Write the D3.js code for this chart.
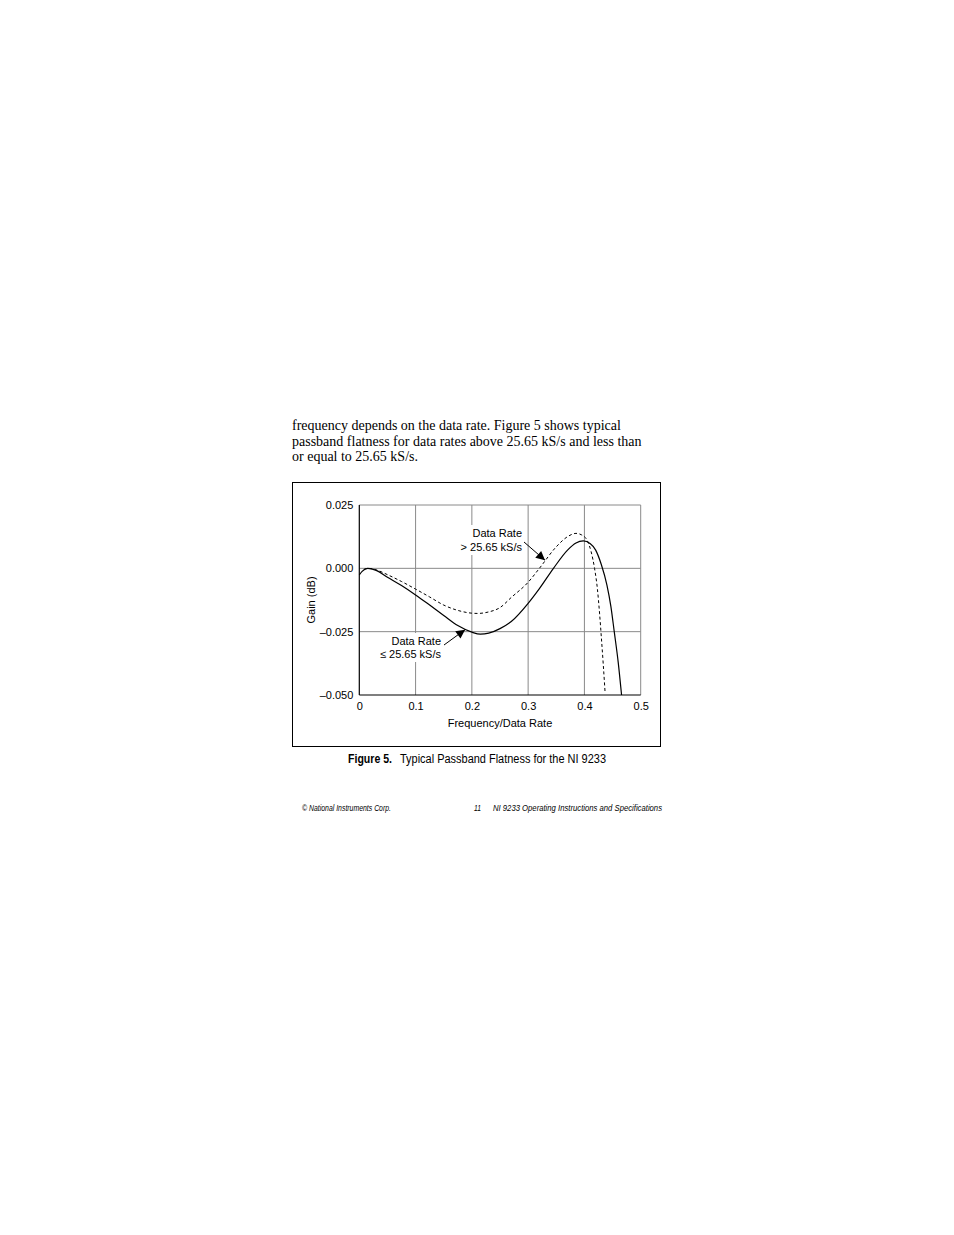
<!DOCTYPE html>
<html>
<head>
<meta charset="utf-8">
<script src="https://cdn.jsdelivr.net/npm/d3@7"></script>
<style>
  body { margin: 0; background: #fff; }
</style>
</head>
<body>
<script>
// frequency / data rate for the two curves
var slowRateX = [0, 0.005, 0.015, 0.03, 0.05, 0.075, 0.1, 0.125, 0.15, 0.175, 0.2, 0.215, 0.23, 0.25, 0.27, 0.3, 0.32, 0.345, 0.37, 0.385, 0.398, 0.41, 0.42, 0.43, 0.44, 0.447, 0.453, 0.46, 0.466];
var slowRateGain = [-0.0026, -0.0012, 0.0, -0.0008, -0.0035, -0.0068, -0.0105, -0.0145, -0.0186, -0.0226, -0.0252, -0.026, -0.0256, -0.0238, -0.021, -0.0138, -0.008, 0.0, 0.0072, 0.0100, 0.0108, 0.0098, 0.0072, 0.0015, -0.0066, -0.015, -0.025, -0.037, -0.05];

var fastRateX = [0.008, 0.015, 0.03, 0.05, 0.075, 0.1, 0.125, 0.15, 0.175, 0.2, 0.21, 0.23, 0.25, 0.27, 0.3, 0.32, 0.35, 0.37, 0.385, 0.395, 0.405, 0.412, 0.418, 0.423, 0.427, 0.43, 0.4335, 0.4366];
var fastRateGain = [-0.0005, 0.0, -0.0006, -0.0025, -0.0052, -0.0082, -0.0113, -0.0145, -0.0166, -0.0177, -0.0178, -0.0172, -0.0155, -0.0115, -0.0055, 0.0, 0.0085, 0.0125, 0.0138, 0.0132, 0.011, 0.0065, 0.0, -0.008, -0.018, -0.027, -0.038, -0.0486];

var xTicks = [0, 0.1, 0.2, 0.3, 0.4, 0.5];
var xTickLabels = ["0", "0.1", "0.2", "0.3", "0.4", "0.5"];
var yTicks = [0.025, 0, -0.025, -0.05];
var yTickLabels = ["0.025", "0.000", "\u20130.025", "\u20130.050"];

var paragraph = [
  "frequency depends on the data rate. Figure 5 shows typical",
  "passband flatness for data rates above 25.65 kS/s and less than",
  "or equal to 25.65 kS/s."
];

var width = 954;
var height = 1235;
var sans = "'Liberation Sans', Arial, Helvetica, sans-serif";

var svg = d3.select("body").append("svg")
    .attr("width", width)
    .attr("height", height);

// body text above the figure
svg.append("g").selectAll("text")
    .data(paragraph)
    .enter()
    .append("text")
    .attr("x", 292)
    .attr("y", function(d, i) { return 430 + i * 15.7; })
    .attr("font-family", "'Liberation Serif', 'Times New Roman', serif")
    .attr("font-size", 14)
    .attr("fill", "#000")
    .text(function(d) { return d; });

// figure frame
svg.append("rect")
    .attr("x", 292.5)
    .attr("y", 482.5)
    .attr("width", 368)
    .attr("height", 264)
    .attr("fill", "none")
    .attr("stroke", "#000")
    .attr("stroke-width", 1);

var x = d3.scaleLinear().domain([0, 0.5]).range([359.3, 640.7]);
var y = d3.scaleLinear().domain([-0.05, 0.025]).range([695, 505]);

// grid
var grid = svg.append("g");
grid.selectAll("line.v")
    .data(xTicks.slice(1))
    .enter()
    .append("line")
    .attr("class", "v")
    .attr("x1", function(d) { return x(d); })
    .attr("x2", function(d) { return x(d); })
    .attr("y1", y(0.025))
    .attr("y2", y(-0.05))
    .attr("stroke", "#8a8a8a")
    .attr("stroke-width", 1);
grid.selectAll("line.h")
    .data(yTicks.slice(0, 3))
    .enter()
    .append("line")
    .attr("class", "h")
    .attr("x1", x(0))
    .attr("x2", x(0.5))
    .attr("y1", function(d) { return y(d); })
    .attr("y2", function(d) { return y(d); })
    .attr("stroke", "#8a8a8a")
    .attr("stroke-width", 1);

// black left and bottom axis lines
svg.append("line")
    .attr("x1", x(0)).attr("x2", x(0))
    .attr("y1", y(0.025)).attr("y2", y(-0.05))
    .attr("stroke", "#000").attr("stroke-width", 1.2);
svg.append("line")
    .attr("x1", x(0)).attr("x2", x(0.5))
    .attr("y1", y(-0.05)).attr("y2", y(-0.05))
    .attr("stroke", "#000").attr("stroke-width", 1.2);

// tick labels via axes, domain and tick lines hidden
var xAxis = d3.axisBottom(x)
    .tickValues(xTicks)
    .tickSize(0)
    .tickPadding(7)
    .tickFormat(function(d, i) { return xTickLabels[i]; });
var gx = svg.append("g")
    .attr("transform", "translate(0," + y(-0.05) + ")")
    .call(xAxis);
gx.select(".domain").remove();
gx.selectAll("text")
    .attr("font-family", sans)
    .attr("font-size", 11)
    .attr("fill", "#000");

var yAxis = d3.axisLeft(y)
    .tickValues(yTicks)
    .tickSize(0)
    .tickPadding(6)
    .tickFormat(function(d, i) { return yTickLabels[i]; });
var gy = svg.append("g")
    .attr("transform", "translate(" + x(0) + ",0)")
    .call(yAxis);
gy.select(".domain").remove();
gy.selectAll("text")
    .attr("font-family", sans)
    .attr("font-size", 11)
    .attr("fill", "#000");

// axis titles
svg.append("text")
    .attr("x", 500)
    .attr("y", 727)
    .attr("text-anchor", "middle")
    .attr("font-family", sans)
    .attr("font-size", 11)
    .text("Frequency/Data Rate");
svg.append("text")
    .attr("transform", "translate(315,600) rotate(-90)")
    .attr("text-anchor", "middle")
    .attr("font-family", sans)
    .attr("font-size", 11)
    .text("Gain (dB)");

// curves
var line = d3.line()
    .x(function(d) { return x(d[0]); })
    .y(function(d) { return y(d[1]); })
    .curve(d3.curveMonotoneX);

var slowPts = slowRateX.map(function(d, i) { return [d, slowRateGain[i]]; });
var fastPts = fastRateX.map(function(d, i) { return [d, fastRateGain[i]]; });

svg.append("path")
    .datum(fastPts)
    .attr("d", line)
    .attr("fill", "none")
    .attr("stroke", "#000")
    .attr("stroke-width", 1)
    .attr("stroke-dasharray", "3,2.5");
svg.append("path")
    .datum(slowPts)
    .attr("d", line)
    .attr("fill", "none")
    .attr("stroke", "#000")
    .attr("stroke-width", 1.2);

// annotations: white boxes knock out the grid behind the labels
svg.append("rect")
    .attr("x", 459).attr("y", 525)
    .attr("width", 65).attr("height", 30)
    .attr("fill", "#fff");
svg.append("rect")
    .attr("x", 376).attr("y", 633)
    .attr("width", 67).attr("height", 29)
    .attr("fill", "#fff");

var defs = svg.append("defs");
defs.append("marker")
    .attr("id", "arrow")
    .attr("viewBox", "0 0 10 10")
    .attr("refX", 10)
    .attr("refY", 5)
    .attr("markerWidth", 11)
    .attr("markerHeight", 9)
    .attr("markerUnits", "userSpaceOnUse")
    .attr("orient", "auto")
    .append("path")
    .attr("d", "M0,0 L10,5 L0,10 Z")
    .attr("fill", "#000");

svg.append("line")
    .attr("x1", 524).attr("y1", 542)
    .attr("x2", x(0.33)).attr("y2", y(0.0032))
    .attr("stroke", "#000").attr("stroke-width", 1)
    .attr("marker-end", "url(#arrow)");
svg.append("line")
    .attr("x1", 444).attr("y1", 645)
    .attr("x2", x(0.188)).attr("y2", y(-0.0242))
    .attr("stroke", "#000").attr("stroke-width", 1)
    .attr("marker-end", "url(#arrow)");

var fastLabel = svg.append("text")
    .attr("text-anchor", "end")
    .attr("font-family", sans)
    .attr("font-size", 11);
fastLabel.append("tspan").attr("x", 522).attr("y", 537).text("Data Rate");
fastLabel.append("tspan").attr("x", 522).attr("y", 551).text("> 25.65 kS/s");

var slowLabel = svg.append("text")
    .attr("text-anchor", "end")
    .attr("font-family", sans)
    .attr("font-size", 11);
slowLabel.append("tspan").attr("x", 441).attr("y", 645).text("Data Rate");
slowLabel.append("tspan").attr("x", 441).attr("y", 658).text("\u2264 25.65 kS/s");

// caption, squeezed to look like the condensed face
svg.append("text")
    .attr("x", 348)
    .attr("y", 763)
    .attr("font-family", sans)
    .attr("font-size", 12.5)
    .attr("font-weight", "bold")
    .attr("textLength", 44)
    .attr("lengthAdjust", "spacingAndGlyphs")
    .text("Figure 5.");
svg.append("text")
    .attr("x", 400)
    .attr("y", 763)
    .attr("font-family", sans)
    .attr("font-size", 12.5)
    .attr("textLength", 206)
    .attr("lengthAdjust", "spacingAndGlyphs")
    .text("Typical Passband Flatness for the NI 9233");

// footer
var footer = svg.append("g")
    .attr("font-family", sans)
    .attr("font-style", "italic")
    .attr("font-size", 8.5);
footer.append("text").attr("x", 302).attr("y", 811)
    .attr("textLength", 89).attr("lengthAdjust", "spacingAndGlyphs")
    .text("\u00a9 National Instruments Corp.");
footer.append("text").attr("x", 474).attr("y", 811)
    .attr("textLength", 7).attr("lengthAdjust", "spacingAndGlyphs")
    .text("11");
footer.append("text").attr("x", 493).attr("y", 811)
    .attr("textLength", 169).attr("lengthAdjust", "spacingAndGlyphs")
    .text("NI 9233 Operating Instructions and Specifications");
</script>
</body>
</html>
